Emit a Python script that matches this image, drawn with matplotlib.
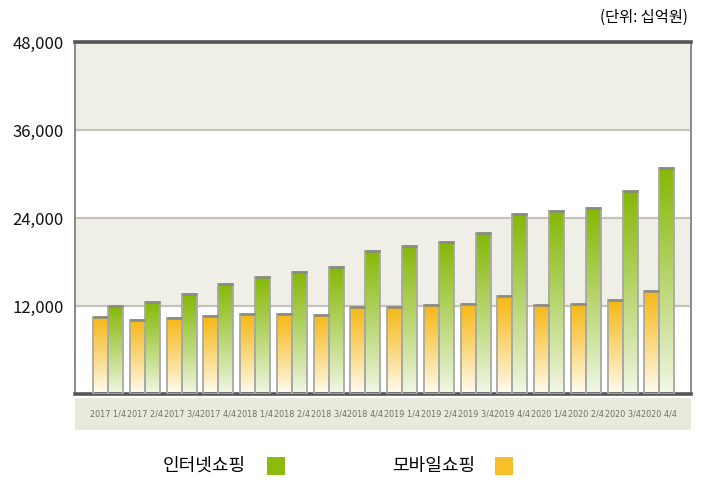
import matplotlib
matplotlib.use("Agg")
import matplotlib.pyplot as plt
import numpy as np
from matplotlib.patches import Rectangle
from matplotlib.colors import to_rgba
from matplotlib import font_manager as fm

quarters = ["2017 1/4", "2017 2/4", "2017 3/4", "2017 4/4",
            "2018 1/4", "2018 2/4", "2018 3/4", "2018 4/4",
            "2019 1/4", "2019 2/4", "2019 3/4", "2019 4/4",
            "2020 1/4", "2020 2/4", "2020 3/4", "2020 4/4"]
mobile = [10500, 10100, 10400, 10600, 10900, 10900, 10800, 11800,
          11800, 12100, 12300, 13300, 12100, 12300, 12800, 14000]
internet = [12000, 12600, 13600, 15000, 15900, 16600, 17300, 19500,
            20200, 20700, 21900, 24600, 24900, 25300, 27700, 30800]
yticks = [12000, 24000, 36000, 48000]

plt.rcParams['font.family'] = ['Noto Sans CJK KR', 'DejaVu Sans']


def narrow_font():
    # pick a condensed face if one is there, else plain Liberation Sans
    for fam, stretch, tag in [('Liberation Sans Narrow', 'normal', 'Narrow'),
                              ('DejaVu Sans', 'condensed', 'Condensed')]:
        fp = fm.FontProperties(family=fam, stretch=stretch)
        try:
            path = fm.findfont(fp, fallback_to_default=False)
        except Exception:
            continue
        if tag.lower() in path.lower():
            return fp
    return fm.FontProperties(family='Liberation Sans')


W, H = 702, 490
fig = plt.figure(figsize=(W / 100, H / 100), dpi=100)
ax = fig.add_axes([75 / W, 1 - 394 / H, 616 / W, 352 / H])

# background bands, white and beige in turn
ax.set_facecolor('white')
band_colors = ['#ffffff', '#efefe8', '#ffffff', '#efefe8']
for lo, c in zip([0, 12000, 24000, 36000], band_colors):
    ax.add_patch(Rectangle((0, lo), 1, 12000, transform=ax.get_yaxis_transform(),
                           facecolor=c, edgecolor='none', zorder=0.5))
for y in [12000, 24000, 36000]:
    ax.axhline(y, color='#c4c4bc', lw=1.6, zorder=1)

x = np.arange(len(quarters))
bw = 0.408


def gradient_bars(xs, vals, top, bottom):
    bars = ax.bar(xs, vals, width=bw, facecolor='none', edgecolor='#a9a9a4',
                  lw=1.3, zorder=3)
    n = 64
    c1 = np.array(to_rgba(top))
    c0 = np.array(to_rgba(bottom))
    t = np.linspace(0, 1, n) ** 0.9
    grad = (c0[None, :] * (1 - t[:, None]) + c1[None, :] * t[:, None])[:, None, :]
    for b in bars:
        bx, by = b.get_x(), b.get_y()
        im = ax.imshow(grad, extent=[bx, bx + b.get_width(), by, by + b.get_height()],
                       aspect='auto', origin='lower', zorder=2, interpolation='bilinear')
        im.set_clip_path(b)
        ax.plot([bx, bx + b.get_width()], [by + b.get_height()] * 2,
                color='#8a8a84', lw=1.8, zorder=4, solid_capstyle='butt')


gradient_bars(x - bw / 2, mobile, '#f6b816', '#fffdf6')
gradient_bars(x + bw / 2, internet, '#86b808', '#f3f8ea')

ax.set_xlim(-0.9, 15.86)
ax.set_ylim(0, 48000)
ax.set_yticks(yticks)
ax.set_yticklabels([f"{v:,}" for v in yticks], fontsize=12, color='#111111')
ax.set_xticks(x)
labels = ax.set_xticklabels(quarters, color='#707068')
fp = narrow_font()
renderer = fig.canvas.get_renderer()
size = 11.0
for lab in labels:
    lab.set_fontproperties(fp)
while size > 5:
    for lab in labels:
        lab.set_fontsize(size)
    if max(l.get_window_extent(renderer).width for l in labels) <= 36:
        break
    size -= 0.25
ax.tick_params(axis='x', length=0, pad=11)
ax.tick_params(axis='y', length=0, pad=8)

for side in ['left', 'right']:
    ax.spines[side].set_color('#777777')
    ax.spines[side].set_linewidth(1.2)
for side in ['top', 'bottom']:
    ax.spines[side].set_color('#555555')
    ax.spines[side].set_linewidth(2.6)

# label band under the plot
fig.patches.append(Rectangle((75 / W, 1 - 430 / H), 616 / W, 32 / H,
                             transform=fig.transFigure, facecolor='#e9e9de',
                             edgecolor='none', zorder=-5))

fig.text(688 / W, 1 - 17 / H, "(단위: 십억원)", ha='right', va='center', fontsize=11)

# legend
fig.text(163 / W, 1 - 466 / H, "인터넷쇼핑", ha='left', va='center', fontsize=13)
fig.patches.append(Rectangle((267 / W, 1 - 475 / H), 18 / W, 18 / H,
                             transform=fig.transFigure, facecolor='#8cbb0c',
                             edgecolor='none'))
fig.text(392 / W, 1 - 466 / H, "모바일쇼핑", ha='left', va='center', fontsize=13)
fig.patches.append(Rectangle((495 / W, 1 - 475 / H), 18 / W, 18 / H,
                             transform=fig.transFigure, facecolor='#f7c02a',
                             edgecolor='none'))

fig.savefig("out.png", dpi=100)
